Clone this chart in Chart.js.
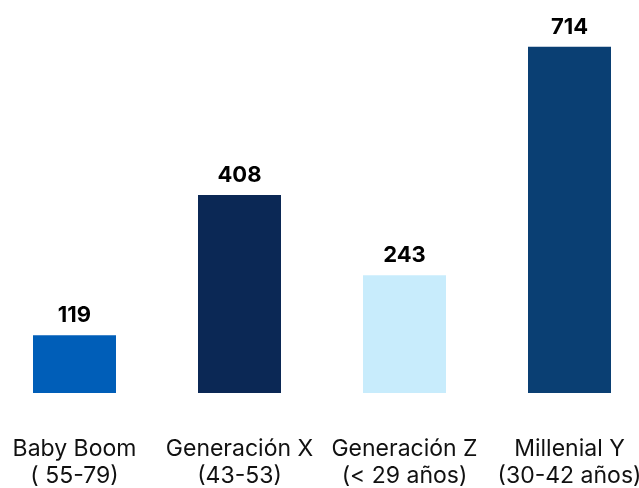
<!DOCTYPE html>
<html>
<head>
<meta charset="utf-8">
<script src="https://cdn.jsdelivr.net/npm/chart.js@4"></script>
<style>
  html, body { margin: 0; padding: 0; background: #fff; overflow: hidden; }
  /* chart is a bit wider than the window so the outer bars sit near the edges */
  #wrap { width: 660px; height: 488px; margin-left: -8px; }
</style>
</head>
<body>
<div id="wrap"><canvas id="gen-chart"></canvas></div>
<script>
const categories = [["Baby Boom", "( 55-79)"], ["Generación X", "(43-53)"], ["Generación Z", "(< 29 años)"], ["Millenial Y", "(30-42 años)"]];
const values = [119, 408, 243, 714];
const barColors = ["#005EB8", "#0B2855", "#C8ECFC", "#0A3F73"];

const valueLabels = {
  id: "valueLabels",
  afterDatasetsDraw(chart) {
    const { ctx: t } = chart;
    const meta = chart.getDatasetMeta(0);
    t.save();
    t.font = "bold 22px Inter";
    t.fillStyle = "#000";
    t.textAlign = "center";
    t.textBaseline = "alphabetic";
    meta.data.forEach((bar, i) => {
      t.fillText(String(values[i]), bar.x, bar.y - 13);
    });
    t.restore();
  },
};

new Chart(document.getElementById("gen-chart"), {
  type: "bar",
  data: {
    labels: categories,
    datasets: [{ data: values, backgroundColor: barColors, borderWidth: 0 }],
  },
  options: {
    responsive: true,
    maintainAspectRatio: false,
    animation: false,
    barPercentage: 0.503,
    categoryPercentage: 1,
    layout: { padding: { top: 5, left: 0, right: 0, bottom: 0 } },
    plugins: { legend: { display: false }, tooltip: { enabled: false } },
    scales: {
      x: {
        grid: { display: false, drawTicks: false },
        border: { display: false },
        ticks: {
          color: "#111",
          font: { family: "Inter", size: 23, lineHeight: 1.16 },
          padding: 43,
          maxRotation: 0,
          autoSkip: false,
        },
        afterFit(s) {
          s.height = 95;
          s.paddingLeft = 0;
          s.paddingRight = 0;
        },
      },
      y: {
        display: false,
        min: 0,
        max: 800,
      },
    },
  },
  plugins: [valueLabels],
});
</script>
</body>
</html>
